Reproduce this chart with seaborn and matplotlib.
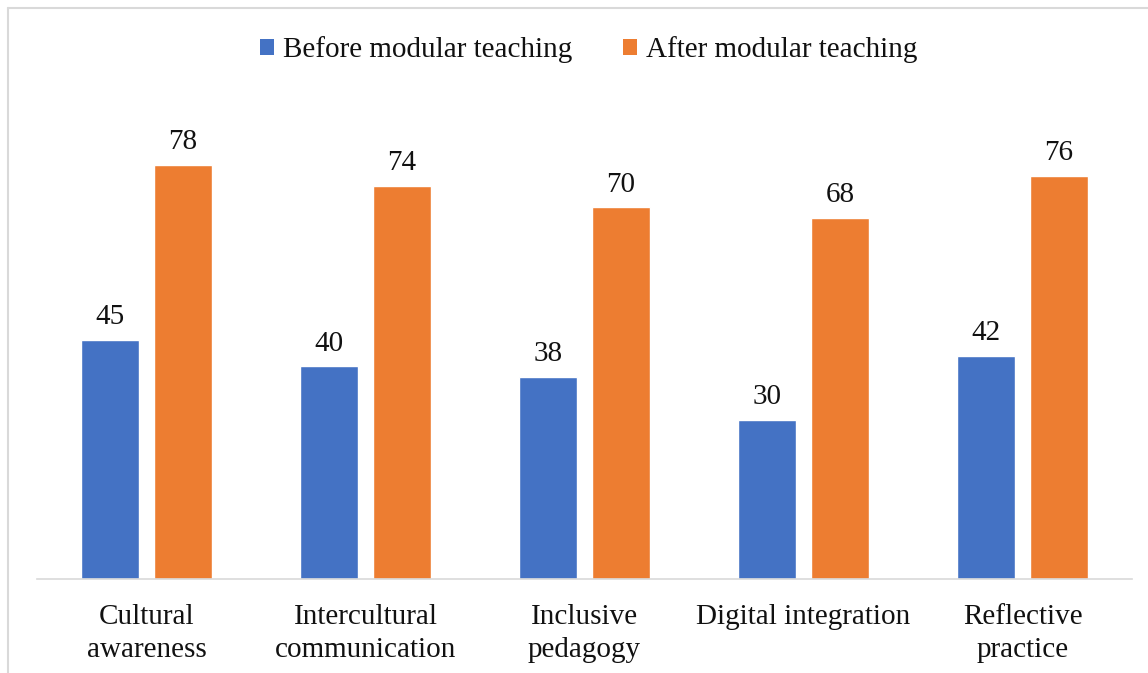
import matplotlib
matplotlib.use("Agg")
import matplotlib.pyplot as plt
import matplotlib.lines as mlines
from matplotlib.patches import Patch
import seaborn as sns
import pandas as pd

categories = ["Cultural\nawareness", "Intercultural\ncommunication", "Inclusive\npedagogy",
              "Digital integration", "Reflective\npractice"]
before = [45, 40, 38, 30, 42]
after = [78, 74, 70, 68, 76]
series_names = ["Before modular teaching", "After modular teaching"]
colors = ["#4472C4", "#ED7D31"]

df = pd.DataFrame({
    "category": categories * 2,
    "value": before + after,
    "series": [series_names[0]] * len(categories) + [series_names[1]] * len(categories),
})

sns.set_theme(style="white")
plt.rcParams["font.family"] = ["Liberation Serif", "DejaVu Serif"]

FS = 21
W, H = 1148, 673
fig = plt.figure(figsize=(W / 100, H / 100), dpi=100)
ax = fig.add_axes([37 / W, (H - 578.6) / H, (1132 - 37) / W, (578.6 - 95) / H])

sns.barplot(data=df, x="category", y="value", hue="series", palette=colors,
            width=0.667, gap=0.205, ax=ax, legend=False, saturation=1, errorbar=None)

ax.set_ylim(0, (578.6 - 95) / 5.303)
ax.set_xlim(-0.5, len(categories) - 0.5)
for c in ax.containers:
    ax.bar_label(c, padding=7, fontsize=FS, color="#111111")

ax.set_xlabel("")
ax.set_ylabel("")
ax.set_yticks([])
ax.tick_params(axis="x", length=0, pad=18, labelsize=FS, colors="#111111")
for lbl in ax.get_xticklabels():
    lbl.set_linespacing(1.35)
    lbl.set_verticalalignment("top")
for s in ["top", "right", "left"]:
    ax.spines[s].set_visible(False)
ax.spines["bottom"].set_color("#D9D9D9")
ax.spines["bottom"].set_linewidth(1.2)

handles = [Patch(facecolor=colors[i], edgecolor="none", label=series_names[i]) for i in range(2)]
fig.legend(handles=handles, loc="center", bbox_to_anchor=(589 / W, 1 - 50 / H), ncol=2,
           frameon=False, fontsize=FS, handlelength=0.48, handleheight=0.48,
           handletextpad=0.3, columnspacing=1.75, labelcolor="#111111")

# chart border (left and top visible)
fig.add_artist(mlines.Line2D([8 / W, 8 / W], [0, 1 - 8 / H], color="#D9D9D9", lw=1.5))
fig.add_artist(mlines.Line2D([8 / W, 1], [1 - 8 / H, 1 - 8 / H], color="#D9D9D9", lw=1.5))

fig.savefig("out.png", dpi=100, facecolor="white")
